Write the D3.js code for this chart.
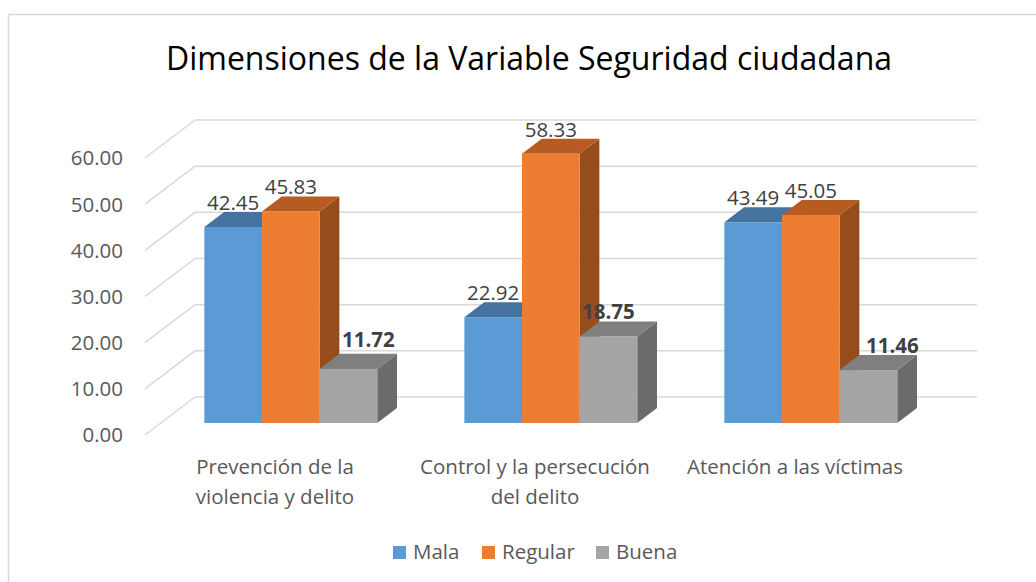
<html>
<head>
<meta charset="utf-8">
<script src="https://d3js.org/d3.v7.min.js"></script>
<style>
  body { margin: 0; background: #fff; font-family: "Open Sans", sans-serif; }
</style>
</head>
<body>
<script>
// data
var categories = ["Prevención de la violencia y delito", "Control y la persecución del delito", "Atención a las víctimas"];
var categoryLines = [["Prevención de la", "violencia y delito"], ["Control y la persecución", "del delito"], ["Atención a las víctimas"]];
var series = ["Mala", "Regular", "Buena"];
var mala = [42.45, 22.92, 43.49];
var regular = [45.83, 58.33, 45.05];
var buena = [11.72, 18.75, 11.46];
var yTicks = [0, 10, 20, 30, 40, 50, 60];
var title = "Dimensiones de la Variable Seguridad ciudadana";

var width = 1036, height = 582;
var front = ["#5B9BD5", "#ED7D31", "#A5A5A5"];
var topC = ["#44739f", "#b65c22", "#7f7f7f"];
var sideC = ["#3a6591", "#974c1c", "#6b6b6b"];

var svg = d3.select("body").append("svg")
  .attr("width", width).attr("height", height);

// chart border (right/bottom run off the picture)
svg.append("rect").attr("x", 8.5).attr("y", 14.5).attr("width", 1100).attr("height", 700)
  .attr("fill", "none").attr("stroke", "#d9d9d9").attr("stroke-width", 1.5);

svg.append("text").attr("x", 529).attr("y", 70).attr("text-anchor", "middle")
  .attr("font-size", 32).attr("fill", "#000").text(title);

// 3d: depth 0 = front floor edge, 1 = back wall
var depthX = 50, depthY = -38;
function off(z) { return [depthX * z, depthY * z]; }

var y = d3.scaleLinear().domain([0, 60]).range([435, 158]);
var x = d3.scaleBand().domain(categories).range([145, 925]).paddingInner(0.335).paddingOuter(0.1675);
var xs = d3.scaleBand().domain(series).range([0, x.bandwidth()]);

// gridlines: side wall slant + back wall
var grid = svg.append("g").attr("stroke", "#d9d9d9").attr("stroke-width", 1.5).attr("fill", "none");
yTicks.forEach(function(v) {
  var b = off(1);
  grid.append("path").attr("d", "M145," + y(v) + "L" + (145 + b[0]) + "," + (y(v) + b[1]) + "L977," + (y(v) + b[1]));
});

svg.append("g").selectAll("text").data(yTicks).enter().append("text")
  .attr("x", 123).attr("y", function(d) { return y(d); }).attr("dy", "0.36em")
  .attr("text-anchor", "end").attr("font-size", 20.5).attr("fill", "#595959")
  .text(function(d) { return d.toFixed(2); });

var zf = 0.316, zb = 0.711;
var f0 = off(zf), f1 = off(zb);
var rows = [];
categories.forEach(function(c, i) {
  [mala[i], regular[i], buena[i]].forEach(function(v, j) {
    rows.push({ cat: c, ci: i, s: series[j], si: j, v: v });
  });
});

var bars = svg.append("g");
rows.forEach(function(d) {
  var xl = x(d.cat) + xs(d.s) + f0[0], xr = xl + xs.bandwidth();
  var yt = y(d.v) + f0[1], yb = y(0) + f0[1];
  var dx = f1[0] - f0[0], dy = f1[1] - f0[1];
  bars.append("path").attr("fill", sideC[d.si])
    .attr("d", "M" + xr + "," + yt + "L" + (xr + dx) + "," + (yt + dy) + "L" + (xr + dx) + "," + (yb + dy) + "L" + xr + "," + yb + "Z");
  bars.append("path").attr("fill", topC[d.si])
    .attr("d", "M" + xl + "," + yt + "L" + (xl + dx) + "," + (yt + dy) + "L" + (xr + dx) + "," + (yt + dy) + "L" + xr + "," + yt + "Z");
  bars.append("rect").attr("fill", front[d.si])
    .attr("x", xl).attr("y", yt).attr("width", xr - xl).attr("height", yb - yt);
  d.cx = (xl + xr) / 2;
  d.ly = y(d.v) + f1[1] - 2;
});

// value labels; a couple were moved by hand in the original
var nudge = { "Buena0": [20, -5], "Buena2": [24, 0] };
svg.append("g").selectAll("text").data(rows).enter().append("text")
  .attr("x", function(d) { var n = nudge[d.s + d.ci]; return d.cx + (n ? n[0] : 0); })
  .attr("y", function(d) { var n = nudge[d.s + d.ci]; return d.ly + (n ? n[1] : 0); })
  .attr("text-anchor", "middle").attr("font-size", 20.5).attr("fill", "#404040")
  .attr("font-weight", function(d) { return d.s == "Buena" ? "bold" : "normal"; })
  .text(function(d) { return d.v.toFixed(2); });

// category labels
var cat = svg.append("g").attr("font-size", 20.5).attr("fill", "#595959").attr("text-anchor", "middle");
categories.forEach(function(c, i) {
  categoryLines[i].forEach(function(line, k) {
    cat.append("text").attr("x", x(c) + x.bandwidth() / 2).attr("y", 474 + k * 30).text(line);
  });
});

// legend
var leg = svg.append("g").attr("font-size", 20.5).attr("fill", "#595959");
var lx = [393, 482, 596];
series.forEach(function(s, i) {
  leg.append("rect").attr("x", lx[i]).attr("y", 546).attr("width", 13).attr("height", 13).attr("fill", front[i]);
  leg.append("text").attr("x", lx[i] + 20).attr("y", 559).text(s);
});
</script>
</body>
</html>
